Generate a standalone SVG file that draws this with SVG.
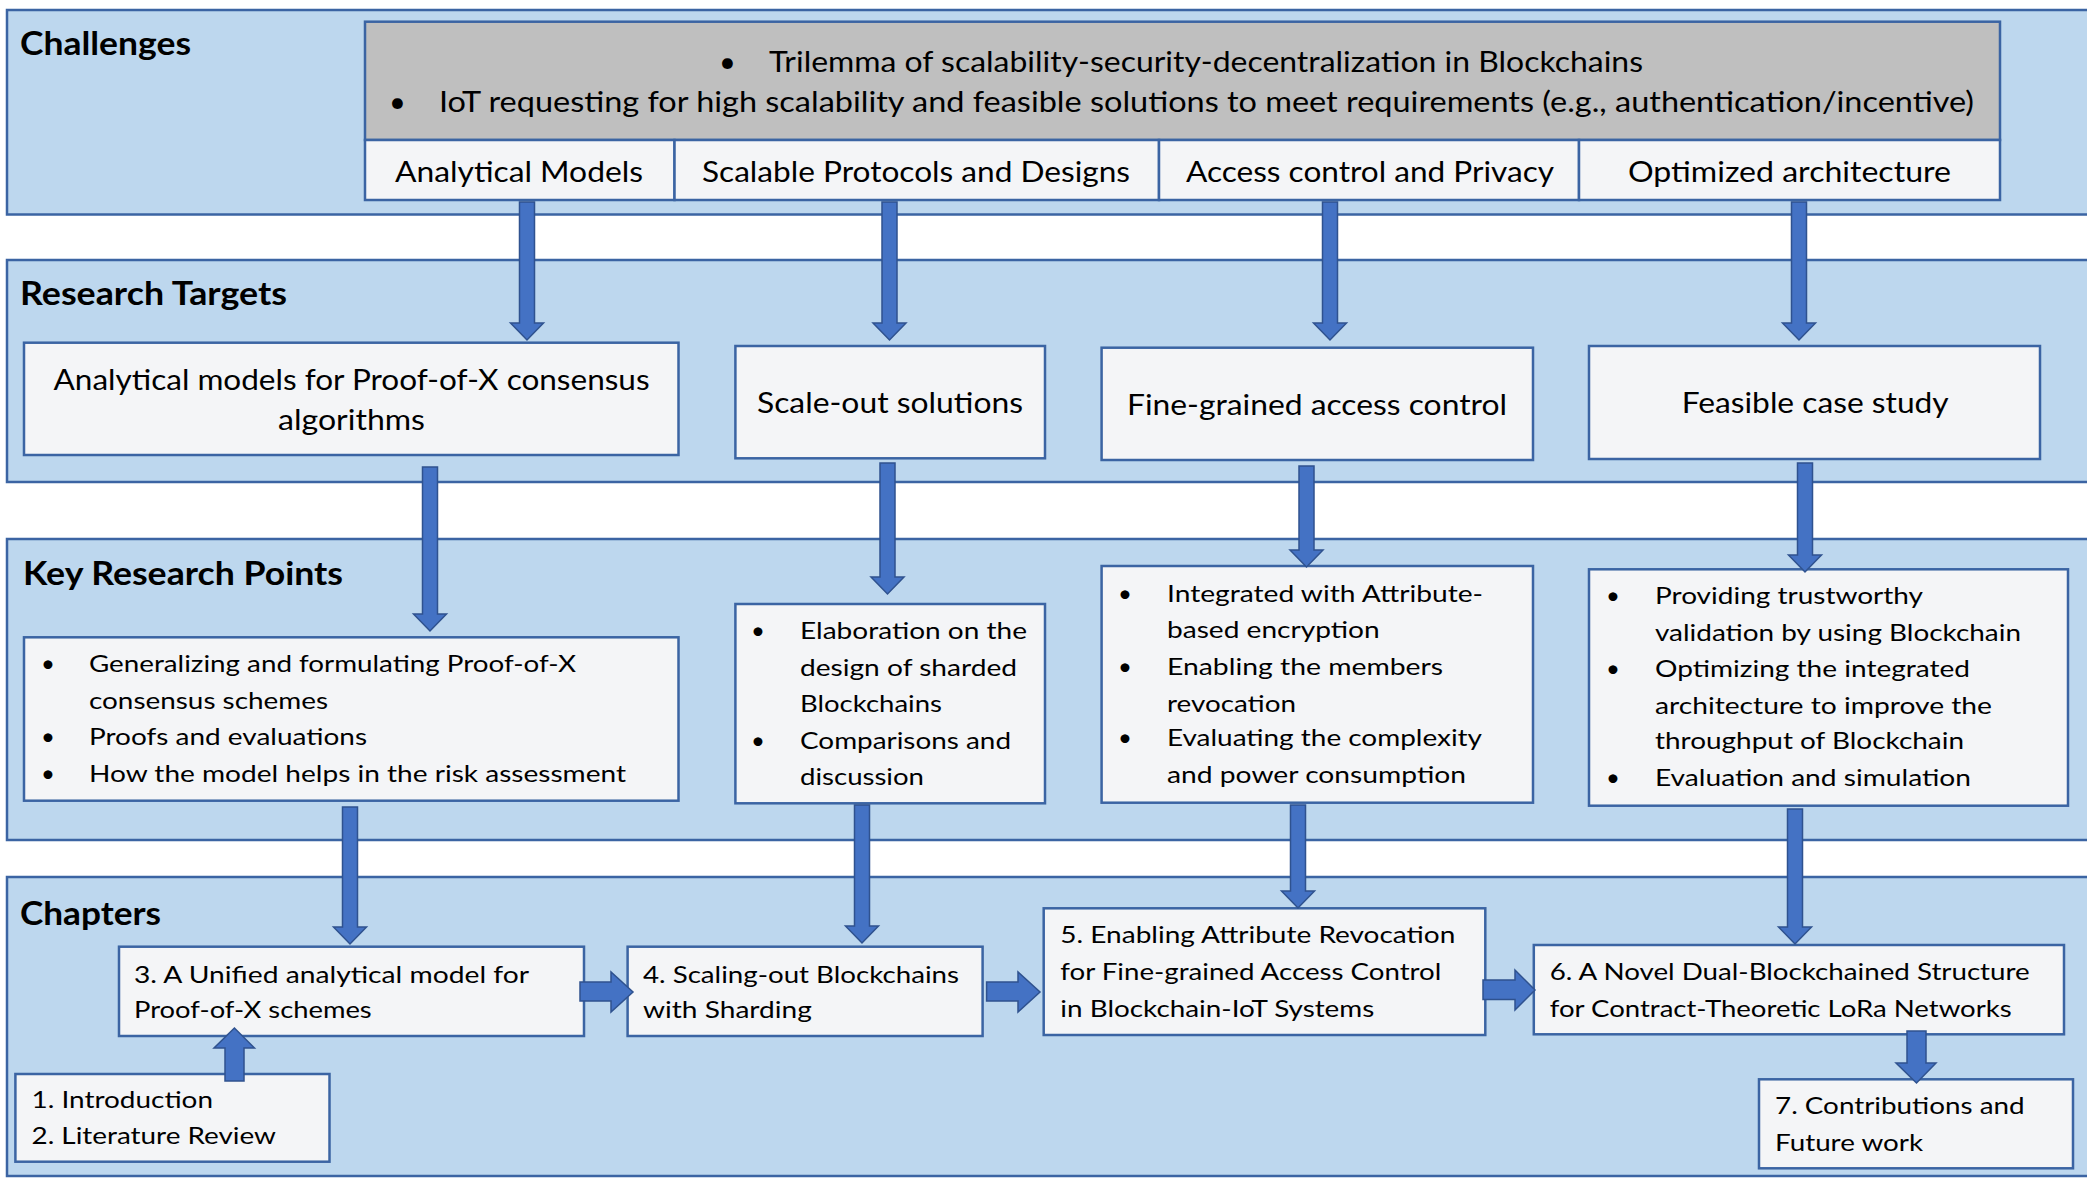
<svg xmlns="http://www.w3.org/2000/svg" width="2087" height="1182" viewBox="0 0 2087 1182">
<style>
.band{fill:#BDD7EE;stroke:#3B64A3;stroke-width:2.5}
.box{fill:#F4F5F7;stroke:#3B64A3;stroke-width:2.5}
.gray{fill:#BFBFBF;stroke:#3B64A3;stroke-width:2.5}
.arr{fill:#4472C4;stroke:#2F528F;stroke-width:1.5;stroke-linejoin:miter}
text{font-family:Lato,"Liberation Sans",sans-serif;fill:#000}
.title{font-weight:bold;font-size:32px}
.big{font-size:29px}
.body{font-size:24px}
</style>
<rect width="2087" height="1182" fill="#FFFFFF"/>

<g id="band-challenges">
<rect class="band" x="7" y="10" width="2100" height="204.5"/>
<text class="title" x="20" y="55" textLength="171" lengthAdjust="spacingAndGlyphs">Challenges</text>
</g>
<g id="band-targets">
<rect class="band" x="7" y="260" width="2100" height="222"/>
<text class="title" x="20" y="305" textLength="267" lengthAdjust="spacingAndGlyphs">Research Targets</text>
</g>
<g id="band-keypoints">
<rect class="band" x="7" y="539" width="2100" height="301"/>
<text class="title" x="23" y="585" textLength="320" lengthAdjust="spacingAndGlyphs">Key Research Points</text>
</g>
<g id="band-chapters">
<rect class="band" x="7" y="877" width="2100" height="299"/>
<text class="title" x="20" y="925" textLength="141" lengthAdjust="spacingAndGlyphs">Chapters</text>
</g>

<g id="challenge-summary">
<rect class="gray" x="365" y="21.7" width="1635" height="118.3"/>
<text class="big" x="719" y="71.7">•</text>
<text class="big" x="769" y="71.7" textLength="874" lengthAdjust="spacingAndGlyphs">Trilemma of scalability-security-decentralization in Blockchains</text>
<text class="big" x="389" y="111.7">•</text>
<text class="big" x="439" y="111.7" textLength="1535" lengthAdjust="spacingAndGlyphs">IoT requesting for high scalability and feasible solutions to meet requirements (e.g., authentication/incentive)</text>
</g>
<g id="challenge-analytical">
<rect class="box" x="365" y="140" width="309.5" height="60"/>
<text class="big" x="395" y="181.7" textLength="248" lengthAdjust="spacingAndGlyphs">Analytical Models</text>
</g>
<g id="challenge-scalable">
<rect class="box" x="674.5" y="140" width="484.5" height="60"/>
<text class="big" x="702" y="181.7" textLength="428" lengthAdjust="spacingAndGlyphs">Scalable Protocols and Designs</text>
</g>
<g id="challenge-access">
<rect class="box" x="1159" y="140" width="420" height="60"/>
<text class="big" x="1186" y="181.7" textLength="368" lengthAdjust="spacingAndGlyphs">Access control and Privacy</text>
</g>
<g id="challenge-architecture">
<rect class="box" x="1579" y="140" width="421" height="60"/>
<text class="big" x="1628" y="181.7" textLength="323" lengthAdjust="spacingAndGlyphs">Optimized architecture</text>
</g>

<g id="target-analytical">
<rect class="box" x="24" y="342.7" width="654.5" height="112.3"/>
<text class="big" x="53.6" y="390" textLength="596" lengthAdjust="spacingAndGlyphs">Analytical models for Proof-of-X consensus</text>
<text class="big" x="278" y="430" textLength="147" lengthAdjust="spacingAndGlyphs">algorithms</text>
</g>
<g id="target-scaleout">
<rect class="box" x="735.4" y="346" width="309.6" height="112.3"/>
<text class="big" x="757" y="413" textLength="266" lengthAdjust="spacingAndGlyphs">Scale-out solutions</text>
</g>
<g id="target-access">
<rect class="box" x="1101.6" y="347.7" width="431.4" height="112.3"/>
<text class="big" x="1127" y="415" textLength="380" lengthAdjust="spacingAndGlyphs">Fine-grained access control</text>
</g>
<g id="target-case">
<rect class="box" x="1589" y="346" width="451" height="113"/>
<text class="big" x="1681.7" y="413" textLength="267" lengthAdjust="spacingAndGlyphs">Feasible case study</text>
</g>

<g id="kp-analytical">
<rect class="box" x="24" y="637.3" width="654.5" height="163.4"/>
<text class="body" x="41" y="671.7">•</text>
<text class="body" x="89" y="671.7" textLength="487" lengthAdjust="spacingAndGlyphs">Generalizing and formulating Proof-of-X</text>
<text class="body" x="89" y="709" textLength="239" lengthAdjust="spacingAndGlyphs">consensus schemes</text>
<text class="body" x="41" y="745">•</text>
<text class="body" x="89" y="745" textLength="278" lengthAdjust="spacingAndGlyphs">Proofs and evaluations</text>
<text class="body" x="41" y="781.7">•</text>
<text class="body" x="89" y="781.7" textLength="537" lengthAdjust="spacingAndGlyphs">How the model helps in the risk assessment</text>
</g>
<g id="kp-sharding">
<rect class="box" x="735.4" y="604" width="309.6" height="199.3"/>
<text class="body" x="751" y="639.3">•</text>
<text class="body" x="800" y="639.3" textLength="227" lengthAdjust="spacingAndGlyphs">Elaboration on the</text>
<text class="body" x="800" y="676" textLength="217" lengthAdjust="spacingAndGlyphs">design of sharded</text>
<text class="body" x="800" y="711.7" textLength="142" lengthAdjust="spacingAndGlyphs">Blockchains</text>
<text class="body" x="751" y="749.3">•</text>
<text class="body" x="800" y="749.3" textLength="211" lengthAdjust="spacingAndGlyphs">Comparisons and</text>
<text class="body" x="800" y="785" textLength="124" lengthAdjust="spacingAndGlyphs">discussion</text>
</g>
<g id="kp-access">
<rect class="box" x="1101.6" y="566" width="431.4" height="236.7"/>
<text class="body" x="1118" y="601.7">•</text>
<text class="body" x="1167" y="601.7" textLength="316" lengthAdjust="spacingAndGlyphs">Integrated with Attribute-</text>
<text class="body" x="1167" y="638.3" textLength="212.6" lengthAdjust="spacingAndGlyphs">based encryption</text>
<text class="body" x="1118" y="675">•</text>
<text class="body" x="1167" y="675" textLength="276" lengthAdjust="spacingAndGlyphs">Enabling the members</text>
<text class="body" x="1167" y="711.7" textLength="129" lengthAdjust="spacingAndGlyphs">revocation</text>
<text class="body" x="1118" y="746">•</text>
<text class="body" x="1167" y="746" textLength="315" lengthAdjust="spacingAndGlyphs">Evaluating the complexity</text>
<text class="body" x="1167" y="783.3" textLength="299" lengthAdjust="spacingAndGlyphs">and power consumption</text>
</g>
<g id="kp-case">
<rect class="box" x="1589" y="569.3" width="479" height="236.4"/>
<text class="body" x="1606" y="604">•</text>
<text class="body" x="1655" y="604" textLength="268" lengthAdjust="spacingAndGlyphs">Providing trustworthy</text>
<text class="body" x="1655" y="641" textLength="366" lengthAdjust="spacingAndGlyphs">validation by using Blockchain</text>
<text class="body" x="1606" y="677.3">•</text>
<text class="body" x="1655" y="677.3" textLength="315" lengthAdjust="spacingAndGlyphs">Optimizing the integrated</text>
<text class="body" x="1655" y="714" textLength="337" lengthAdjust="spacingAndGlyphs">architecture to improve the</text>
<text class="body" x="1655" y="749.3" textLength="309" lengthAdjust="spacingAndGlyphs">throughput of Blockchain</text>
<text class="body" x="1606" y="786">•</text>
<text class="body" x="1655" y="786" textLength="316" lengthAdjust="spacingAndGlyphs">Evaluation and simulation</text>
</g>

<g id="chapter-1-2">
<rect class="box" x="15.4" y="1074" width="314.1" height="87.7"/>
<text class="body" x="31.5" y="1108.3" textLength="181.5" lengthAdjust="spacingAndGlyphs">1. Introduction</text>
<text class="body" x="31.5" y="1144" textLength="244.5" lengthAdjust="spacingAndGlyphs">2. Literature Review</text>
</g>
<g id="chapter-3">
<rect class="box" x="119" y="946.7" width="465" height="89.3"/>
<text class="body" x="134" y="982.7" textLength="395" lengthAdjust="spacingAndGlyphs">3. A Unified analytical model for</text>
<text class="body" x="134" y="1018.3" textLength="237.7" lengthAdjust="spacingAndGlyphs">Proof-of-X schemes</text>
</g>
<g id="chapter-4">
<rect class="box" x="627.6" y="946.7" width="355" height="89.3"/>
<text class="body" x="643" y="982.7" textLength="316" lengthAdjust="spacingAndGlyphs">4. Scaling-out Blockchains</text>
<text class="body" x="643" y="1018.3" textLength="168.8" lengthAdjust="spacingAndGlyphs">with Sharding</text>
</g>
<g id="chapter-5">
<rect class="box" x="1043.7" y="908.3" width="441.6" height="126.7"/>
<text class="body" x="1060.3" y="943.3" textLength="395" lengthAdjust="spacingAndGlyphs">5. Enabling Attribute Revocation</text>
<text class="body" x="1060.3" y="980" textLength="381" lengthAdjust="spacingAndGlyphs">for Fine-grained Access Control</text>
<text class="body" x="1060.3" y="1016.7" textLength="314" lengthAdjust="spacingAndGlyphs">in Blockchain-IoT Systems</text>
</g>
<g id="chapter-6">
<rect class="box" x="1533.8" y="945" width="530.2" height="89.3"/>
<text class="body" x="1549.7" y="980" textLength="480" lengthAdjust="spacingAndGlyphs">6. A Novel Dual-Blockchained Structure</text>
<text class="body" x="1549.7" y="1017.3" textLength="462" lengthAdjust="spacingAndGlyphs">for Contract-Theoretic LoRa Networks</text>
</g>
<g id="chapter-7">
<rect class="box" x="1759" y="1079.3" width="314" height="89"/>
<text class="body" x="1775" y="1114" textLength="249.6" lengthAdjust="spacingAndGlyphs">7. Contributions and</text>
<text class="body" x="1775" y="1150.7" textLength="148" lengthAdjust="spacingAndGlyphs">Future work</text>
</g>

<g id="connectors">
<!-- challenges to targets -->
<path class="arr" d="M519.5,202 H534.5 V323 H543.5 L527,340 L510.5,323 H519.5 Z"/>
<path class="arr" d="M882,202 H897 V323 H906 L889.5,340 L873,323 H882 Z"/>
<path class="arr" d="M1322.5,202 H1337.5 V323 H1346.5 L1330,340 L1313.5,323 H1322.5 Z"/>
<path class="arr" d="M1791.5,202 H1806.5 V323 H1815.5 L1799,340 L1782.5,323 H1791.5 Z"/>
<!-- targets to key points -->
<path class="arr" d="M422.5,467 H437.5 V614 H446.5 L430,631 L413.5,614 H422.5 Z"/>
<path class="arr" d="M880,463 H895 V577 H904 L887.5,594 L871,577 H880 Z"/>
<path class="arr" d="M1299,466 H1314 V550 H1323 L1306.5,567 L1290,550 H1299 Z"/>
<path class="arr" d="M1797.5,463 H1812.5 V555 H1821.5 L1805,572 L1788.5,555 H1797.5 Z"/>
<!-- key points to chapters -->
<path class="arr" d="M342.5,807 H357.5 V927 H366.5 L350,944 L333.5,927 H342.5 Z"/>
<path class="arr" d="M854.5,805 H869.5 V926 H878.5 L862,943 L845.5,926 H854.5 Z"/>
<path class="arr" d="M1290.5,805 H1305.5 V891 H1314.5 L1298,908 L1281.5,891 H1290.5 Z"/>
<path class="arr" d="M1787.5,809 H1802.5 V927 H1811.5 L1795,944 L1778.5,927 H1787.5 Z"/>
<!-- chapter flow -->
<path class="arr" d="M580,982 H611 V972 L633,992 L611,1012 V1001 H580 Z"/>
<path class="arr" d="M986.6,982 H1018 V972 L1040,992 L1018,1012 V1001 H986.6 Z"/>
<path class="arr" d="M1483,980 H1515 V970 L1535,990 L1515,1010 V999.5 H1483 Z"/>
<path class="arr" d="M1907,1031 H1926 V1063 H1936 L1916.5,1083 L1896,1063 H1907 Z"/>
<path class="arr" d="M225,1081 V1048 H214 L234.4,1028 L254.5,1048 H244 V1081 Z"/>
</g>
</svg>
